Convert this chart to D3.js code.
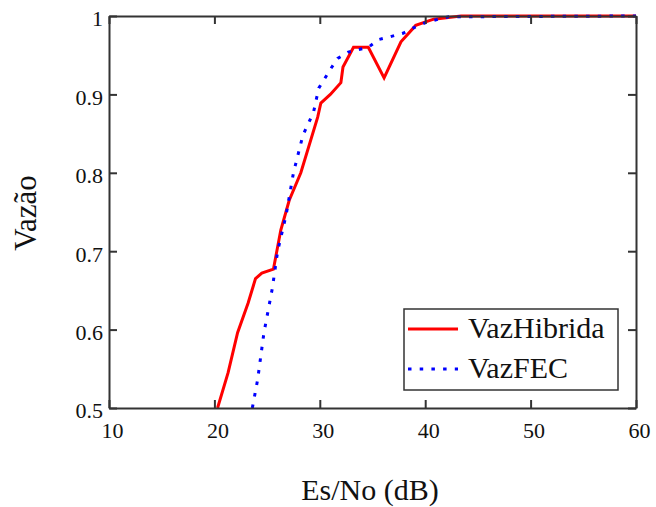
<!DOCTYPE html>
<html>
<head>
<meta charset="utf-8">
<script src="https://cdn.jsdelivr.net/npm/d3@7"></script>
<style>
  body { margin: 0; background: #fff; }
  text { font-family: "Liberation Serif", "DejaVu Serif", serif; fill: #111; }
</style>
</head>
<body>
<svg id="chart" width="656" height="507"></svg>
<script>
// Es/No (dB) and throughput
const hibridaX = [20.3, 21.3, 22.2, 23.2, 23.9, 24.5, 25.6, 26.3, 27.1, 28.2, 29.8, 30.1, 31.0, 32.0, 32.2, 33.2, 34.6, 36.1, 37.7, 39.1, 40.8, 43.4, 60]
const hibridaY = [0.50, 0.545, 0.596, 0.634, 0.665, 0.672, 0.677, 0.727, 0.765, 0.80, 0.871, 0.889, 0.90, 0.915, 0.935, 0.96, 0.96, 0.921, 0.967, 0.988, 0.996, 1.0, 1.0]

const fecX = [23.6, 24.1, 24.7, 25.5, 26.0, 26.8, 27.5, 28.4, 29.4, 29.9, 31.1, 31.7, 32.7, 34.6, 35.6, 36.8, 37.9, 38.9, 40.1, 42.2, 60]
const fecY = [0.50, 0.536, 0.596, 0.653, 0.70, 0.746, 0.80, 0.848, 0.877, 0.908, 0.934, 0.946, 0.954, 0.96, 0.97, 0.974, 0.978, 0.985, 0.992, 0.999, 1.0]

const xTicks = [10, 20, 30, 40, 50, 60]
const yTicks = [0.5, 0.6, 0.7, 0.8, 0.9, 1]
const yTickLabels = ['0.5', '0.6', '0.7', '0.8', '0.9', '1']

const seriesNames = ['VazHibrida', 'VazFEC']

const padding = { top: 16, right: 20, bottom: 99, left: 109 }
const width = 656
const height = 507
const innerWidth = width - padding.left - padding.right
const innerHeight = height - padding.top - padding.bottom

const svg = d3.select('#chart')

const xScale = d3.scaleLinear().domain([10, 60]).range([0, innerWidth])
const yScale = d3.scaleLinear().domain([0.5, 1]).range([innerHeight, 0])

const plot = svg.append('g')
  .attr('transform', `translate(${ padding.left }, ${ padding.top })`)

plot.append('clipPath').attr('id', 'clip')
  .append('rect').attr('width', innerWidth).attr('height', innerHeight + 2).attr('y', -2)

const line = d3.line()
  .x(d => xScale(d[0]))
  .y(d => yScale(d[1]))

const hibrida = hibridaX.map((x, i) => [x, hibridaY[i]])
const fec = fecX.map((x, i) => [x, fecY[i]])

plot.append('path')
  .datum(hibrida)
  .attr('clip-path', 'url(#clip)')
  .attr('d', line)
  .attr('fill', 'none')
  .attr('stroke', '#ff0000')
  .attr('stroke-width', 3)

plot.append('path')
  .datum(fec)
  .attr('clip-path', 'url(#clip)')
  .attr('d', line)
  .attr('fill', 'none')
  .attr('stroke', '#0000ff')
  .attr('stroke-width', 3)
  .attr('stroke-dasharray', '3.5,8.2')

// axes: ticks pointing inwards on all four sides
function styleAxis(g) {
  g.selectAll('path, line').attr('stroke', '#333').attr('stroke-width', 2)
  g.selectAll('text')
    .style('font-family', '"Liberation Serif", serif')
    .style('font-size', '22px')
    .attr('fill', '#111')
}

plot.append('g')
  .attr('transform', `translate(0, ${ innerHeight })`)
  .call(d3.axisBottom(xScale).tickValues(xTicks).tickSize(-8).tickSizeOuter(0).tickPadding(14))
  .call(styleAxis)
  .call(g => g.selectAll('text').attr('dx', 3))

plot.append('g')
  .call(d3.axisTop(xScale).tickValues(xTicks).tickSize(-8).tickSizeOuter(0).tickFormat(''))
  .call(styleAxis)

plot.append('g')
  .call(d3.axisLeft(yScale).tickValues(yTicks).tickSize(-8).tickSizeOuter(0).tickPadding(6)
    .tickFormat((d, i) => yTickLabels[i]))
  .call(styleAxis)
  .call(g => g.selectAll('text').attr('dy', '0.45em'))

plot.append('g')
  .attr('transform', `translate(${ innerWidth }, 0)`)
  .call(d3.axisRight(yScale).tickValues(yTicks).tickSize(-8).tickSizeOuter(0).tickFormat(''))
  .call(styleAxis)

// axis titles
svg.append('text')
  .attr('x', 370)
  .attr('y', 500)
  .attr('text-anchor', 'middle')
  .style('font-size', '30px')
  .text('Es/No (dB)')

svg.append('text')
  .attr('transform', 'translate(36, 213) rotate(-90)')
  .attr('text-anchor', 'middle')
  .style('font-size', '31px')
  .text('Vazão')

// legend
const legend = svg.append('g').attr('transform', 'translate(404, 309)')

legend.append('rect')
  .attr('width', 214)
  .attr('height', 81)
  .attr('fill', '#fff')
  .attr('stroke', '#333')
  .attr('stroke-width', 1.5)

const legendItems = legend.selectAll('.item')
  .data(seriesNames)
  .join('g')
  .attr('class', 'item')
  .attr('transform', (d, i) => `translate(0, ${ 20 + i * 40 })`)

legendItems.append('line')
  .attr('x1', 4).attr('x2', 54)
  .attr('y1', 0).attr('y2', 0)
  .attr('stroke', (d, i) => i === 0 ? '#ff0000' : '#0000ff')
  .attr('stroke-width', 3)
  .attr('stroke-dasharray', (d, i) => i === 0 ? null : '3.5,8.2')

legendItems.append('text')
  .attr('x', 64)
  .attr('y', 9)
  .style('font-size', '30px')
  .text(d => d)
</script>
</body>
</html>
